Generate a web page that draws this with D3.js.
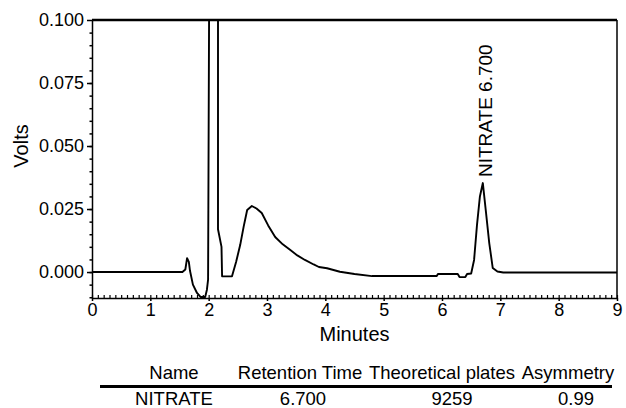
<!DOCTYPE html>
<html>
<head>
<meta charset="utf-8">
<script src="https://cdn.jsdelivr.net/npm/d3@7"></script>
<style>
  body { margin: 0; background: #fff; }
  svg { font-family: "Liberation Sans", Arial, sans-serif; }
</style>
</head>
<body>
<div id="chart"></div>
<script>
// chromatogram trace (minutes, volts)
const times = [0, 1.55, 1.60, 1.63, 1.66, 1.68, 1.73, 1.80, 1.86, 1.94, 1.97, 1.99, 2.01, 2.16, 2.16, 2.22, 2.23,
  2.40, 2.47, 2.54, 2.60, 2.66, 2.74, 2.82, 2.91, 3.02, 3.14, 3.27, 3.40, 3.52, 3.65, 3.80, 3.89, 4.03, 4.25,
  4.50, 4.80, 5.91, 5.93, 6.27, 6.30, 6.40, 6.43, 6.50, 6.55, 6.60, 6.65, 6.70, 6.75, 6.81, 6.87, 6.95, 7.05, 9.0];
const volts = [0, 0, 0.001, 0.0055, 0.004, 0.0005, -0.005, -0.0083, -0.0099, -0.0099, -0.007, -0.003, 0.12, 0.12, 0.017, 0.01, -0.0017,
  -0.0017, 0.004, 0.0107, 0.018, 0.0246, 0.0262, 0.0252, 0.0234, 0.0185, 0.0139, 0.011, 0.0087, 0.0066, 0.0048, 0.003, 0.002, 0.0015, 0.0001,
  -0.0008, -0.0016, -0.0016, -0.0008, -0.0008, -0.002, -0.002, -0.0008, -0.0006, 0.0048, 0.0187, 0.030, 0.0353, 0.0246, 0.0115, 0.0016, 0.0002, -0.0002, -0.0002];

const peakNames = ["NITRATE"];
const peakTimes = [6.700];
const peakHeights = [0.0353];

const xTicks = [0, 1, 2, 3, 4, 5, 6, 7, 8, 9];
const yTicks = [0.000, 0.025, 0.050, 0.075, 0.100];

const tableHeader = ["Name", "Retention Time", "Theoretical plates", "Asymmetry"];
const tableRow = ["NITRATE", "6.700", "9259", "0.99"];

const width = 626, height = 408;
const margin = { left: 92, right: 9, top: 20, bottom: 110 };

const svg = d3.select("#chart").append("svg")
  .attr("width", width)
  .attr("height", height);

const x = d3.scaleLinear().domain([0, 9]).range([margin.left, width - margin.right]);
const y = d3.scaleLinear().domain([-0.0103, 0.100]).range([height - margin.bottom, margin.top]);

svg.append("clipPath").attr("id", "plot")
  .append("rect")
  .attr("x", margin.left).attr("y", margin.top)
  .attr("width", x(9) - x(0)).attr("height", y(-0.0103) - y(0.1));

// trace
const pts = times.map((t, i) => [t, volts[i]]);
svg.append("path")
  .datum(pts)
  .attr("clip-path", "url(#plot)")
  .attr("fill", "none")
  .attr("stroke", "#000")
  .attr("stroke-width", 1.9)
  .attr("stroke-linejoin", "round")
  .attr("d", d3.line().x(d => x(d[0])).y(d => y(d[1])));

// frame: top and right
svg.append("line")
  .attr("x1", x(0)).attr("x2", x(9)).attr("y1", y(0.1)).attr("y2", y(0.1))
  .attr("stroke", "#000").attr("stroke-width", 2.5);
svg.append("line")
  .attr("x1", x(9)).attr("x2", x(9)).attr("y1", y(0.1)).attr("y2", y(-0.0103))
  .attr("stroke", "#000").attr("stroke-width", 1.5);

// y axis
const yAxis = svg.append("g")
  .attr("transform", `translate(${margin.left},0)`)
  .call(d3.axisLeft(y).tickValues(yTicks).tickFormat(d3.format(".3f")).tickSizeInner(5).tickSizeOuter(0));
yAxis.selectAll("text").style("font-size", "18px").attr("fill", "#000").attr("x", -8);
yAxis.select(".domain").attr("stroke-width", 1.5);
yAxis.selectAll(".tick line").attr("stroke-width", 1.5);
svg.append("g")
  .attr("transform", `translate(${margin.left},0)`)
  .call(d3.axisLeft(y).tickValues(d3.range(-0.010, 0.1, 0.005)).tickFormat("").tickSizeInner(2.5).tickSizeOuter(0))
  .call(g => g.select(".domain").remove())
  .selectAll("line").attr("stroke-width", 1.5);

// x axis
const xAxis = svg.append("g")
  .attr("transform", `translate(0,${y(-0.0103)})`)
  .call(d3.axisBottom(x).tickValues(xTicks).tickFormat(d3.format("d")).tickSizeInner(3).tickSizeOuter(0));
xAxis.selectAll("text").style("font-size", "18px").attr("fill", "#000").attr("y", 5);
xAxis.select(".domain").attr("stroke-width", 1.5);
xAxis.selectAll(".tick line").attr("stroke-width", 1.5);
svg.append("g")
  .attr("transform", `translate(0,${y(-0.0103)})`)
  .call(d3.axisTop(x).tickValues(d3.range(0, 9.01, 0.1)).tickFormat("").tickSizeInner(3).tickSizeOuter(0))
  .call(g => g.select(".domain").remove())
  .selectAll("line").attr("stroke-width", 1.2);

// axis titles
svg.append("text")
  .attr("x", (x(0) + x(9)) / 2).attr("y", 341)
  .attr("text-anchor", "middle")
  .style("font-size", "20px")
  .text("Minutes");
svg.append("text")
  .attr("transform", "translate(28,146) rotate(-90)")
  .attr("text-anchor", "middle")
  .style("font-size", "20px")
  .text("Volts");

// peak label
svg.selectAll(".peak")
  .data(peakNames)
  .join("text")
  .attr("class", "peak")
  .attr("transform", (d, i) => `translate(${x(peakTimes[i]) + 9},${y(peakHeights[i]) - 6}) rotate(-90)`)
  .style("font-size", "19px")
  .text((d, i) => `${d} ${peakTimes[i].toFixed(3)}`);

// results table
const headX = [174, 300, 442, 568];
const cellX = [174, 303, 452, 576];
svg.selectAll(".th")
  .data(tableHeader)
  .join("text")
  .attr("class", "th")
  .attr("x", (d, i) => headX[i]).attr("y", 379)
  .attr("text-anchor", "middle")
  .style("font-size", "18.5px")
  .text(d => d);
svg.append("line")
  .attr("x1", 100).attr("x2", 612).attr("y1", 386.5).attr("y2", 386.5)
  .attr("stroke", "#000").attr("stroke-width", 3);
svg.selectAll(".td")
  .data(tableRow)
  .join("text")
  .attr("class", "td")
  .attr("x", (d, i) => cellX[i]).attr("y", 405)
  .attr("text-anchor", "middle")
  .style("font-size", "18.5px")
  .text(d => d);
</script>
</body>
</html>
